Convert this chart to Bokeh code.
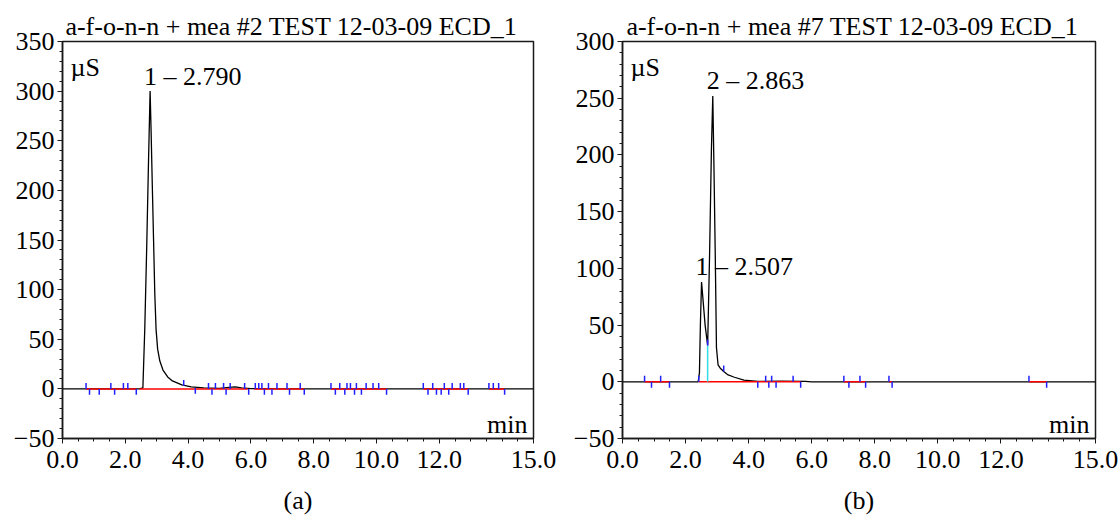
from bokeh.plotting import figure
from bokeh.layouts import row
from bokeh.models import Range1d, FixedTicker, PrintfTickFormatter, Label
from bokeh.core.properties import value
from bokeh.embed import file_html
from bokeh.resources import INLINE

FONT = "Liberation Serif"
FS = "26px"

# ---------------- shared axis data ----------------
x_ticks = [0, 2, 4, 6, 8, 10, 12, 15]
x_minor = [i * 0.5 for i in range(31)]

# ---------------- panel (a) ----------------
a_title = "a-f-o-n-n + mea #2  TEST 12-03-09  ECD_1"
a_caption = "(a)"
a_y_ticks = [-50, 0, 50, 100, 150, 200, 250, 300, 350]
a_time = [0.0, 2.45, 2.56, 2.62, 2.68, 2.74, 2.790, 2.82, 2.86, 2.90, 2.94, 2.98,
          3.03, 3.10, 3.20, 3.35, 3.50, 3.80, 4.10, 4.50, 5.00, 5.30, 5.50, 5.70,
          6.00, 7.00, 15.0]
a_signal = [0.0, 0.0, 1.0, 60, 140, 230, 300, 262, 205, 150, 95, 60,
            40, 28, 19, 12, 8, 4, 2, 1, 0.6, 1.5, 2.0, 1.0,
            0.3, 0.0, 0.0]
a_peak_time = [2.790]
a_peak_height = [300]
a_peak_label = ["1 \u2013 2.790"]
a_mark_time = [0.75, 0.86, 1.17, 1.54, 1.66, 1.94, 2.08, 2.35, 3.86, 4.23, 4.65, 4.76,
               4.87, 5.13, 5.21, 5.34, 5.80, 5.93, 6.14, 6.25, 6.35, 6.43, 6.56, 6.67,
               6.83, 7.15, 7.23, 7.57, 7.70, 8.55, 8.69, 8.83, 8.99, 9.06, 9.17, 9.30,
               9.36, 9.52, 9.67, 9.89, 10.07, 10.32, 11.49, 11.64, 11.79, 11.91, 12.06,
               12.16, 12.30, 12.41, 12.67, 12.78, 12.92, 13.58, 13.72, 13.89, 14.08]
a_mark_dir = [1, -1, -1, 1, -1, 1, 1, -1, 1, -1, 1, -1,
              1, 1, -1, 1, 1, -1, 1, 1, 1, -1, 1, -1,
              1, 1, -1, 1, -1, 1, -1, 1, -1, 1, 1, -1,
              1, -1, 1, 1, 1, -1, 1, -1, 1, -1, -1,
              1, -1, 1, 1, 1, -1, 1, 1, 1, -1]
a_mark_base = [0] * 8 + [3, 1] + [0] * 47
a_base_start = [0.75, 2.45, 6.10, 8.55, 11.49, 13.58]
a_base_end = [2.35, 5.90, 7.70, 10.32, 12.92, 14.08]
a_drop_time = []
a_drop_height = []

# ---------------- panel (b) ----------------
b_title = "a-f-o-n-n + mea #7  TEST 12-03-09  ECD_1"
b_caption = "(b)"
b_y_ticks = [-50, 0, 50, 100, 150, 200, 250, 300]
b_time = [0.0, 2.40, 2.44, 2.47, 2.507, 2.56, 2.62, 2.70, 2.76, 2.82, 2.863,
          2.90, 2.94, 2.98, 3.03, 3.10, 3.21, 3.35, 3.55, 3.85, 4.30, 5.00,
          5.80, 6.00, 15.0]
b_signal = [0.0, 0.0, 8, 50, 88, 70, 50, 32, 110, 205, 252,
            190, 115, 30, 15, 12, 9, 6, 4, 1.5, 0.3, 0.5,
            0.3, 0.0, 0.0]
b_peak_time = [2.507, 2.863]
b_peak_height = [88, 252]
b_peak_label = ["1 \u2013 2.507", "2 \u2013 2.863"]
b_mark_time = [0.70, 0.92, 1.21, 1.49, 2.42, 2.70, 3.21, 4.29, 4.54, 4.64, 4.73,
               4.87, 5.41, 5.65, 7.02, 7.18, 7.53, 7.71, 8.45, 8.55, 12.89, 13.45]
b_mark_dir = [1, -1, 1, -1, 1, 1, 1, -1, 1, -1, 1,
              -1, 1, -1, 1, -1, 1, -1, 1, -1, 1, -1]
b_mark_base = [0, 0, 0, 0, 0, 32, 9, 0, 0, 0, 0,
               0, 0, 0, 0, 0, 0, 0, 0, 0, 0, 0]
b_base_start = [0.70, 2.42, 7.02, 8.45, 12.89]
b_base_end = [1.49, 5.65, 7.71, 8.55, 13.45]
b_drop_time = [2.70]
b_drop_height = [32]

MARK_PX = 6
FRAME_H = 400
FRAME_W_PX = 472


def panel(title, caption, y_ticks, time, signal, pk_t, pk_h, pk_lab,
          m_t, m_dir, m_base, bs, be, d_t, d_h, width, border_left, border_right):
    ylo, yhi = y_ticks[0], y_ticks[-1]
    unit = (yhi - ylo) / FRAME_H
    xunit = 15.0 / FRAME_W_PX
    p = figure(width=width, height=517, output_backend="svg", toolbar_location=None,
               x_range=Range1d(0, 15), y_range=Range1d(ylo, yhi),
               min_border_left=border_left, min_border_right=border_right,
               min_border_top=41, min_border_bottom=76)
    p.title.text = title
    p.title.align = "center"
    p.title.text_font = FONT
    p.title.text_font_size = FS
    p.title.text_font_style = "normal"
    p.title.text_color = "black"
    p.title.standoff = 2
    p.grid.visible = False
    p.outline_line_color = "#1a1a1a"
    p.outline_line_width = 1.5
    p.outline_line_alpha = 1
    p.background_fill_color = "white"
    p.border_fill_color = "white"

    for ax in (p.xaxis[0], p.yaxis[0]):
        ax.axis_line_color = "#1a1a1a"
        ax.axis_line_width = 1.5
        ax.major_tick_line_color = "#1a1a1a"
        ax.minor_tick_line_color = "#1a1a1a"
        ax.major_tick_out = 5
        ax.major_tick_in = 0
        ax.minor_tick_out = 3
        ax.minor_tick_in = 0
        ax.major_label_text_font = FONT
        ax.major_label_text_font_size = FS
        ax.major_label_text_color = "black"
    p.xaxis.ticker = FixedTicker(ticks=x_ticks, minor_ticks=x_minor)
    p.xaxis.formatter = PrintfTickFormatter(format="%.1f")
    p.xaxis.major_label_standoff = 7
    p.xaxis.axis_label = caption
    p.xaxis.axis_label_text_font = FONT
    p.xaxis.axis_label_text_font_size = FS
    p.xaxis.axis_label_text_font_style = "normal"
    p.xaxis.axis_label_text_color = "black"
    p.xaxis.axis_label_standoff = 15
    y_minor = list(range(ylo, yhi + 1, 10))
    p.yaxis.ticker = FixedTicker(ticks=y_ticks, minor_ticks=y_minor)
    p.yaxis.major_label_standoff = 3

    # trace
    p.line(time, signal, line_color="black", line_width=1.3)
    # integration baselines
    p.segment(x0=bs, y0=[0] * len(bs), x1=be, y1=[0] * len(be),
              line_color="#ff0000", line_width=1.5)
    # drop lines
    if d_t:
        p.segment(x0=d_t, y0=[0] * len(d_t), x1=d_t, y1=d_h,
                  line_color="#33dde8", line_width=1.5)
    # peak markers
    y1 = [b + d * MARK_PX * unit for b, d in zip(m_base, m_dir)]
    p.segment(x0=m_t, y0=m_base, x1=m_t, y1=y1, line_color="#2020ff", line_width=1.5)
    # peak labels
    p.text(x=pk_t, y=pk_h, text=pk_lab, x_offset=-6, y_offset=-15,
           text_align="left", text_baseline="alphabetic",
           text_font=value(FONT), text_font_size=value(FS), text_color="black")
    # unit labels
    p.add_layout(Label(x=8 * xunit, y=yhi - 26 * unit, text="\u00b5S", text_font=FONT,
                       text_font_size=FS, text_baseline="alphabetic", text_color="black"))
    p.add_layout(Label(x=15 - 6 * xunit, y=ylo + 14 * unit, text="min", text_font=FONT,
                       text_font_size=FS, text_align="right", text_baseline="alphabetic",
                       text_color="black"))
    return p


pa = panel(a_title, a_caption, a_y_ticks, a_time, a_signal, a_peak_time, a_peak_height,
           a_peak_label, a_mark_time, a_mark_dir, a_mark_base, a_base_start, a_base_end,
           a_drop_time, a_drop_height, 560, 62, 27)
pb = panel(b_title, b_caption, b_y_ticks, b_time, b_signal, b_peak_time, b_peak_height,
           b_peak_label, b_mark_time, b_mark_dir, b_mark_base, b_base_start, b_base_end,
           b_drop_time, b_drop_height, 559, 62, 24)

layout = row(pa, pb)
open("out.html", "w").write(file_html(layout, INLINE))
